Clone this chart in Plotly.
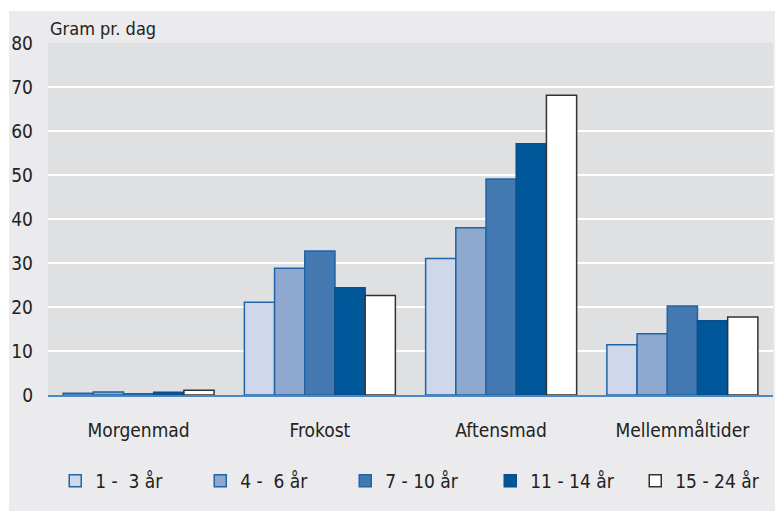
import plotly.graph_objects as go

categories = ["Morgenmad", "Frokost", "Aftensmad", "Mellemmåltider"]
series_names = ["1 -  3 år", "4 -  6 år", "7 - 10 år", "11 - 14 år", "15 - 24 år"]
v_1_3 = [0.4, 21.1, 31.0, 11.4]
v_4_6 = [0.7, 28.8, 38.0, 13.9]
v_7_10 = [0.3, 32.7, 49.1, 20.2]
v_11_14 = [0.6, 24.4, 57.1, 16.9]
v_15_24 = [1.1, 22.6, 68.1, 17.7]
y_ticks = [0, 10, 20, 30, 40, 50, 60, 70, 80]

values = [v_1_3, v_4_6, v_7_10, v_11_14, v_15_24]
fills = ["#cfd8ea", "#8fa8d0", "#4478b0", "#00579a", "#ffffff"]
borders = ["#1f64a6", "#1f64a6", "#1f64a6", "#0a4f8c", "#333333"]

FONT = "Liberation Sans Narrow, DejaVu Sans Condensed, Arial Narrow, sans-serif"

fig = go.Figure()
for name, vals, fc, bc in zip(series_names, values, fills, borders):
    fig.add_trace(go.Bar(
        x=categories, y=vals, name=name,
        marker=dict(color=fc, line=dict(color=bc, width=1.5)),
    ))

fig.update_layout(
    width=775, height=503,
    margin=dict(l=40, r=10, t=35, b=116, autoexpand=False),
    paper_bgcolor="#ebebed",
    plot_bgcolor="#dfe0e2",
    barmode="group",
    bargap=0.167,
    bargroupgap=0,
    font=dict(family=FONT, size=19, color="#222222"),
    showlegend=True,
    legend=dict(
        orientation="h", x=0.51, xanchor="center", y=-0.244, yanchor="middle",
        font=dict(size=19), bgcolor="rgba(0,0,0,0)",
        entrywidth=100, entrywidthmode="pixels",
        traceorder="normal",
    ),
    xaxis=dict(
        showline=True, linecolor="#4d87bf", linewidth=2, automargin=False,
        ticks="", ticklabelstandoff=17, tickfont=dict(size=19),
    ),
    yaxis=dict(
        range=[0, 80], tickvals=y_ticks, ticktext=[str(t) for t in y_ticks],
        showgrid=True, gridcolor="#ffffff", gridwidth=2, automargin=False,
        zeroline=False, showline=False, ticks="",
        ticklabelstandoff=14, tickfont=dict(size=19),
    ),
    annotations=[dict(
        text="Gram pr. dag", xref="paper", yref="paper", x=0, y=1.04,
        xanchor="left", yanchor="middle", showarrow=False,
        font=dict(size=18),
    )],
    shapes=[
        dict(type="rect", xref="paper", yref="paper", x0=-0.06, x1=-0.0538,
             y0=-0.4, y1=1.2, fillcolor="#ffffff", line=dict(width=0), layer="below"),
        dict(type="rect", xref="paper", yref="paper", x0=-0.06, x1=1.1,
             y0=1.0909, y1=1.2, fillcolor="#ffffff", line=dict(width=0), layer="below"),
    ],
)

fig.write_html("out.html")
